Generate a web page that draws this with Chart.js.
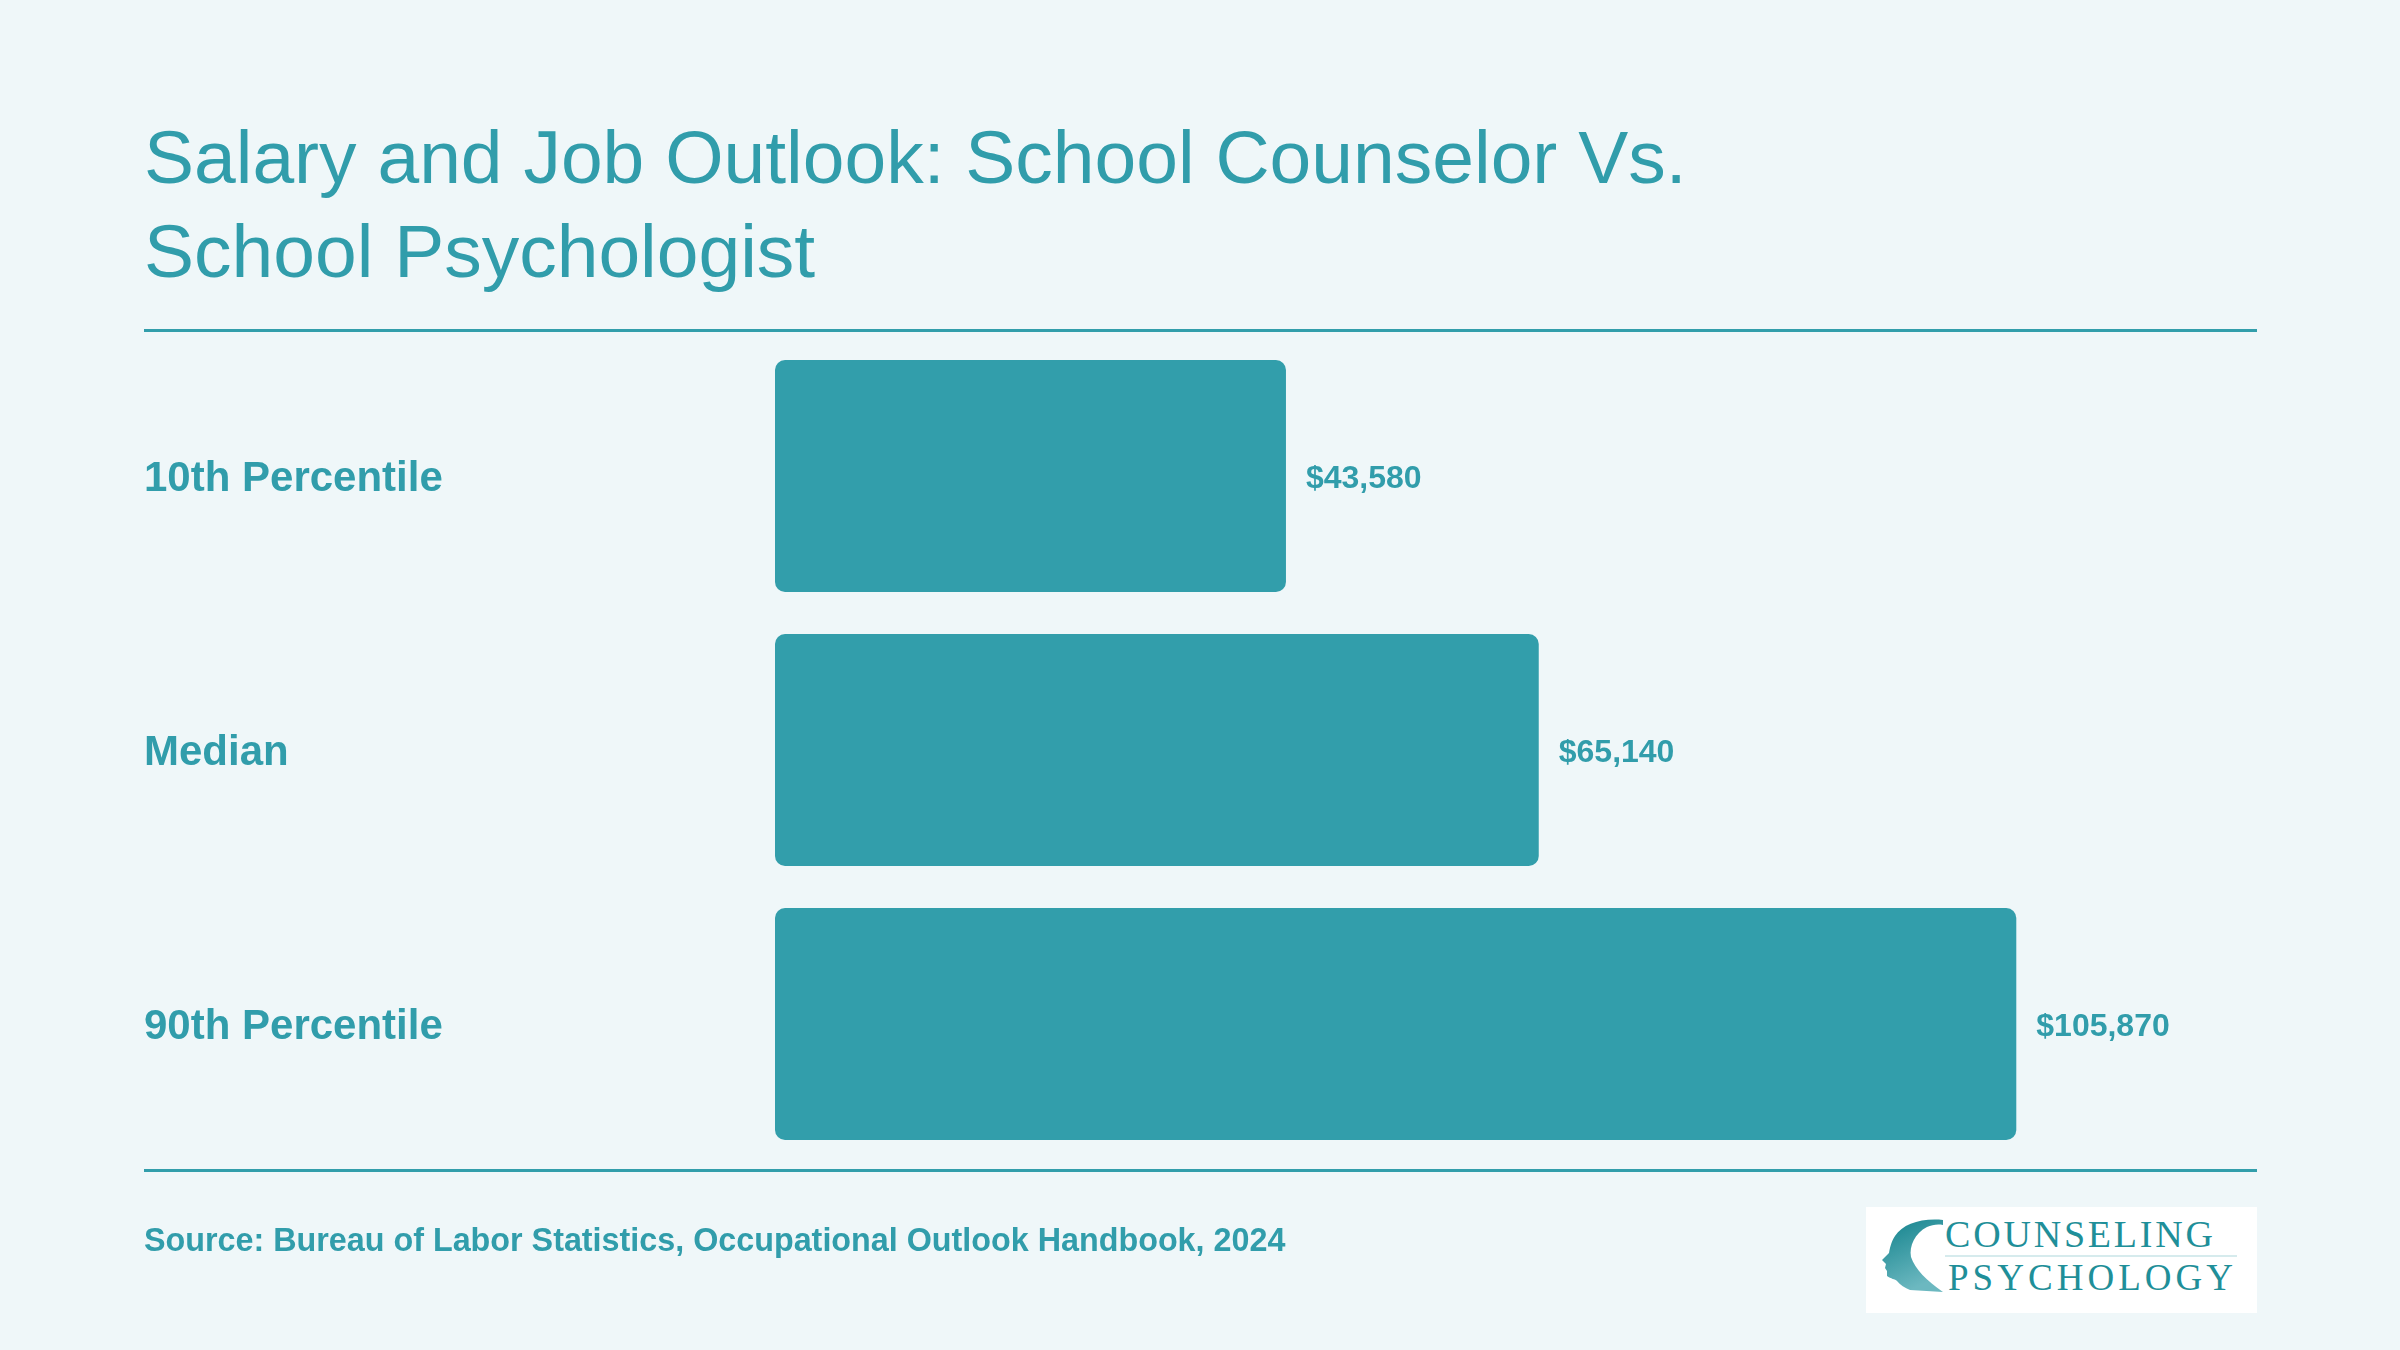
<!DOCTYPE html>
<html>
<head>
<meta charset="utf-8">
<script src="https://cdn.jsdelivr.net/npm/chart.js@4"></script>
<style>
  html, body { margin: 0; padding: 0; }
  body {
    width: 2400px; height: 1350px; position: relative; overflow: hidden;
    background: #eff7f9;
    font-family: "Liberation Sans", Arial, Helvetica, sans-serif;
    color: #319dab;
  }
  #chart { position: absolute; left: 0; top: 0; }
  .title {
    position: absolute; left: 144px; top: 110px;
    font-size: 75px; line-height: 94px; font-weight: normal;
  }
  .rule {
    position: absolute; left: 144px; width: 2113px; height: 3px; background: #329eab;
  }
  .source {
    position: absolute; left: 144px; top: 1224px;
    font-size: 32.3px; line-height: 32px; font-weight: bold;
  }
  .logo { position: absolute; left: 1866px; top: 1207px; }
</style>
</head>
<body>
<div class="title">Salary and Job Outlook: School Counselor Vs.<br>School Psychologist</div>
<div class="rule" style="top:329px"></div>
<div class="rule" style="top:1169px"></div>
<canvas id="chart" width="2400" height="1350"></canvas>
<div class="source">Source: Bureau of Labor Statistics, Occupational Outlook Handbook, 2024</div>
<svg class="logo" width="391" height="106" viewBox="0 0 391 106">
  <defs>
    <linearGradient id="headFill" x1="0" y1="0" x2="0.4" y2="1">
      <stop offset="0" stop-color="#12828c"/>
      <stop offset="1" stop-color="#6cb8c0"/>
    </linearGradient>
  </defs>
  <rect x="0" y="0" width="391" height="106" fill="#ffffff"/>
  <path d="M77,13 C55,11 37,17 29,29 C25,35 24,41 23,46 L16,53 L20,57 L19,61 L21,64 L21,69 C25,72 29,72 31,74 C34,78 39,81 44,83 L77,85 C61,74 49,62 45,50 C43,39 49,26 61,20 C66,18 71,17 77,18 Z" fill="url(#headFill)"/>
  <text x="79" y="40" font-family="'Liberation Serif', 'DejaVu Serif', serif" font-size="38" fill="#1f8f99" textLength="268" lengthAdjust="spacing">COUNSELING</text>
  <line x1="79" y1="49" x2="371" y2="49" stroke="#c9e4e7" stroke-width="1.5"/>
  <text x="82" y="83" font-family="'Liberation Serif', 'DejaVu Serif', serif" font-size="37" fill="#1f8f99" textLength="285" lengthAdjust="spacing">PSYCHOLOGY</text>
</svg>

<script>
// Data
const categories = ['10th Percentile', 'Median', '90th Percentile'];
const salaries = [43580, 65140, 105870];
const axisMax = 126400;

const teal = '#319dab';
const barColor = '#329eab';

function formatDollars(v) {
    return '$' + v.toLocaleString('en-US');
}

// Draw the dollar value just right of each bar
const valueLabelPlugin = {
    id: 'valueLabels',
    afterDatasetsDraw(chart) {
        const ctx = chart.ctx;
        const meta = chart.getDatasetMeta(0);
        ctx.save();
        ctx.font = 'bold 32px "Liberation Sans", Arial, sans-serif';
        ctx.fillStyle = teal;
        ctx.textAlign = 'left';
        ctx.textBaseline = 'middle';
        meta.data.forEach((bar, i) => {
            ctx.fillText(formatDollars(salaries[i]), bar.x + 20, bar.y + 3);
        });
        ctx.restore();
    }
};

const ctx = document.getElementById('chart').getContext('2d');
new Chart(ctx, {
    type: 'bar',
    data: {
        labels: categories,
        datasets: [{
            data: salaries,
            backgroundColor: barColor,
            borderWidth: 0,
            borderRadius: 10,
            borderSkipped: false,
            barPercentage: 1,
            categoryPercentage: 0.847
        }]
    },
    options: {
        indexAxis: 'y',
        responsive: false,
        animation: false,
        devicePixelRatio: 1,
        layout: {
            padding: { left: 144, right: 143, top: 339, bottom: 189 }
        },
        plugins: {
            legend: { display: false },
            tooltip: { enabled: false },
            title: { display: false }
        },
        scales: {
            x: {
                display: false,
                min: 0,
                max: axisMax
            },
            y: {
                grid: { display: false },
                border: { display: false },
                ticks: {
                    color: teal,
                    crossAlign: 'far',
                    padding: 0,
                    labelOffset: 3,
                    font: { family: '"Liberation Sans", Arial, sans-serif', size: 42, weight: 'bold' }
                },
                afterFit: scale => { scale.width = 631; }
            }
        }
    },
    plugins: [valueLabelPlugin]
});
</script>
</body>
</html>
